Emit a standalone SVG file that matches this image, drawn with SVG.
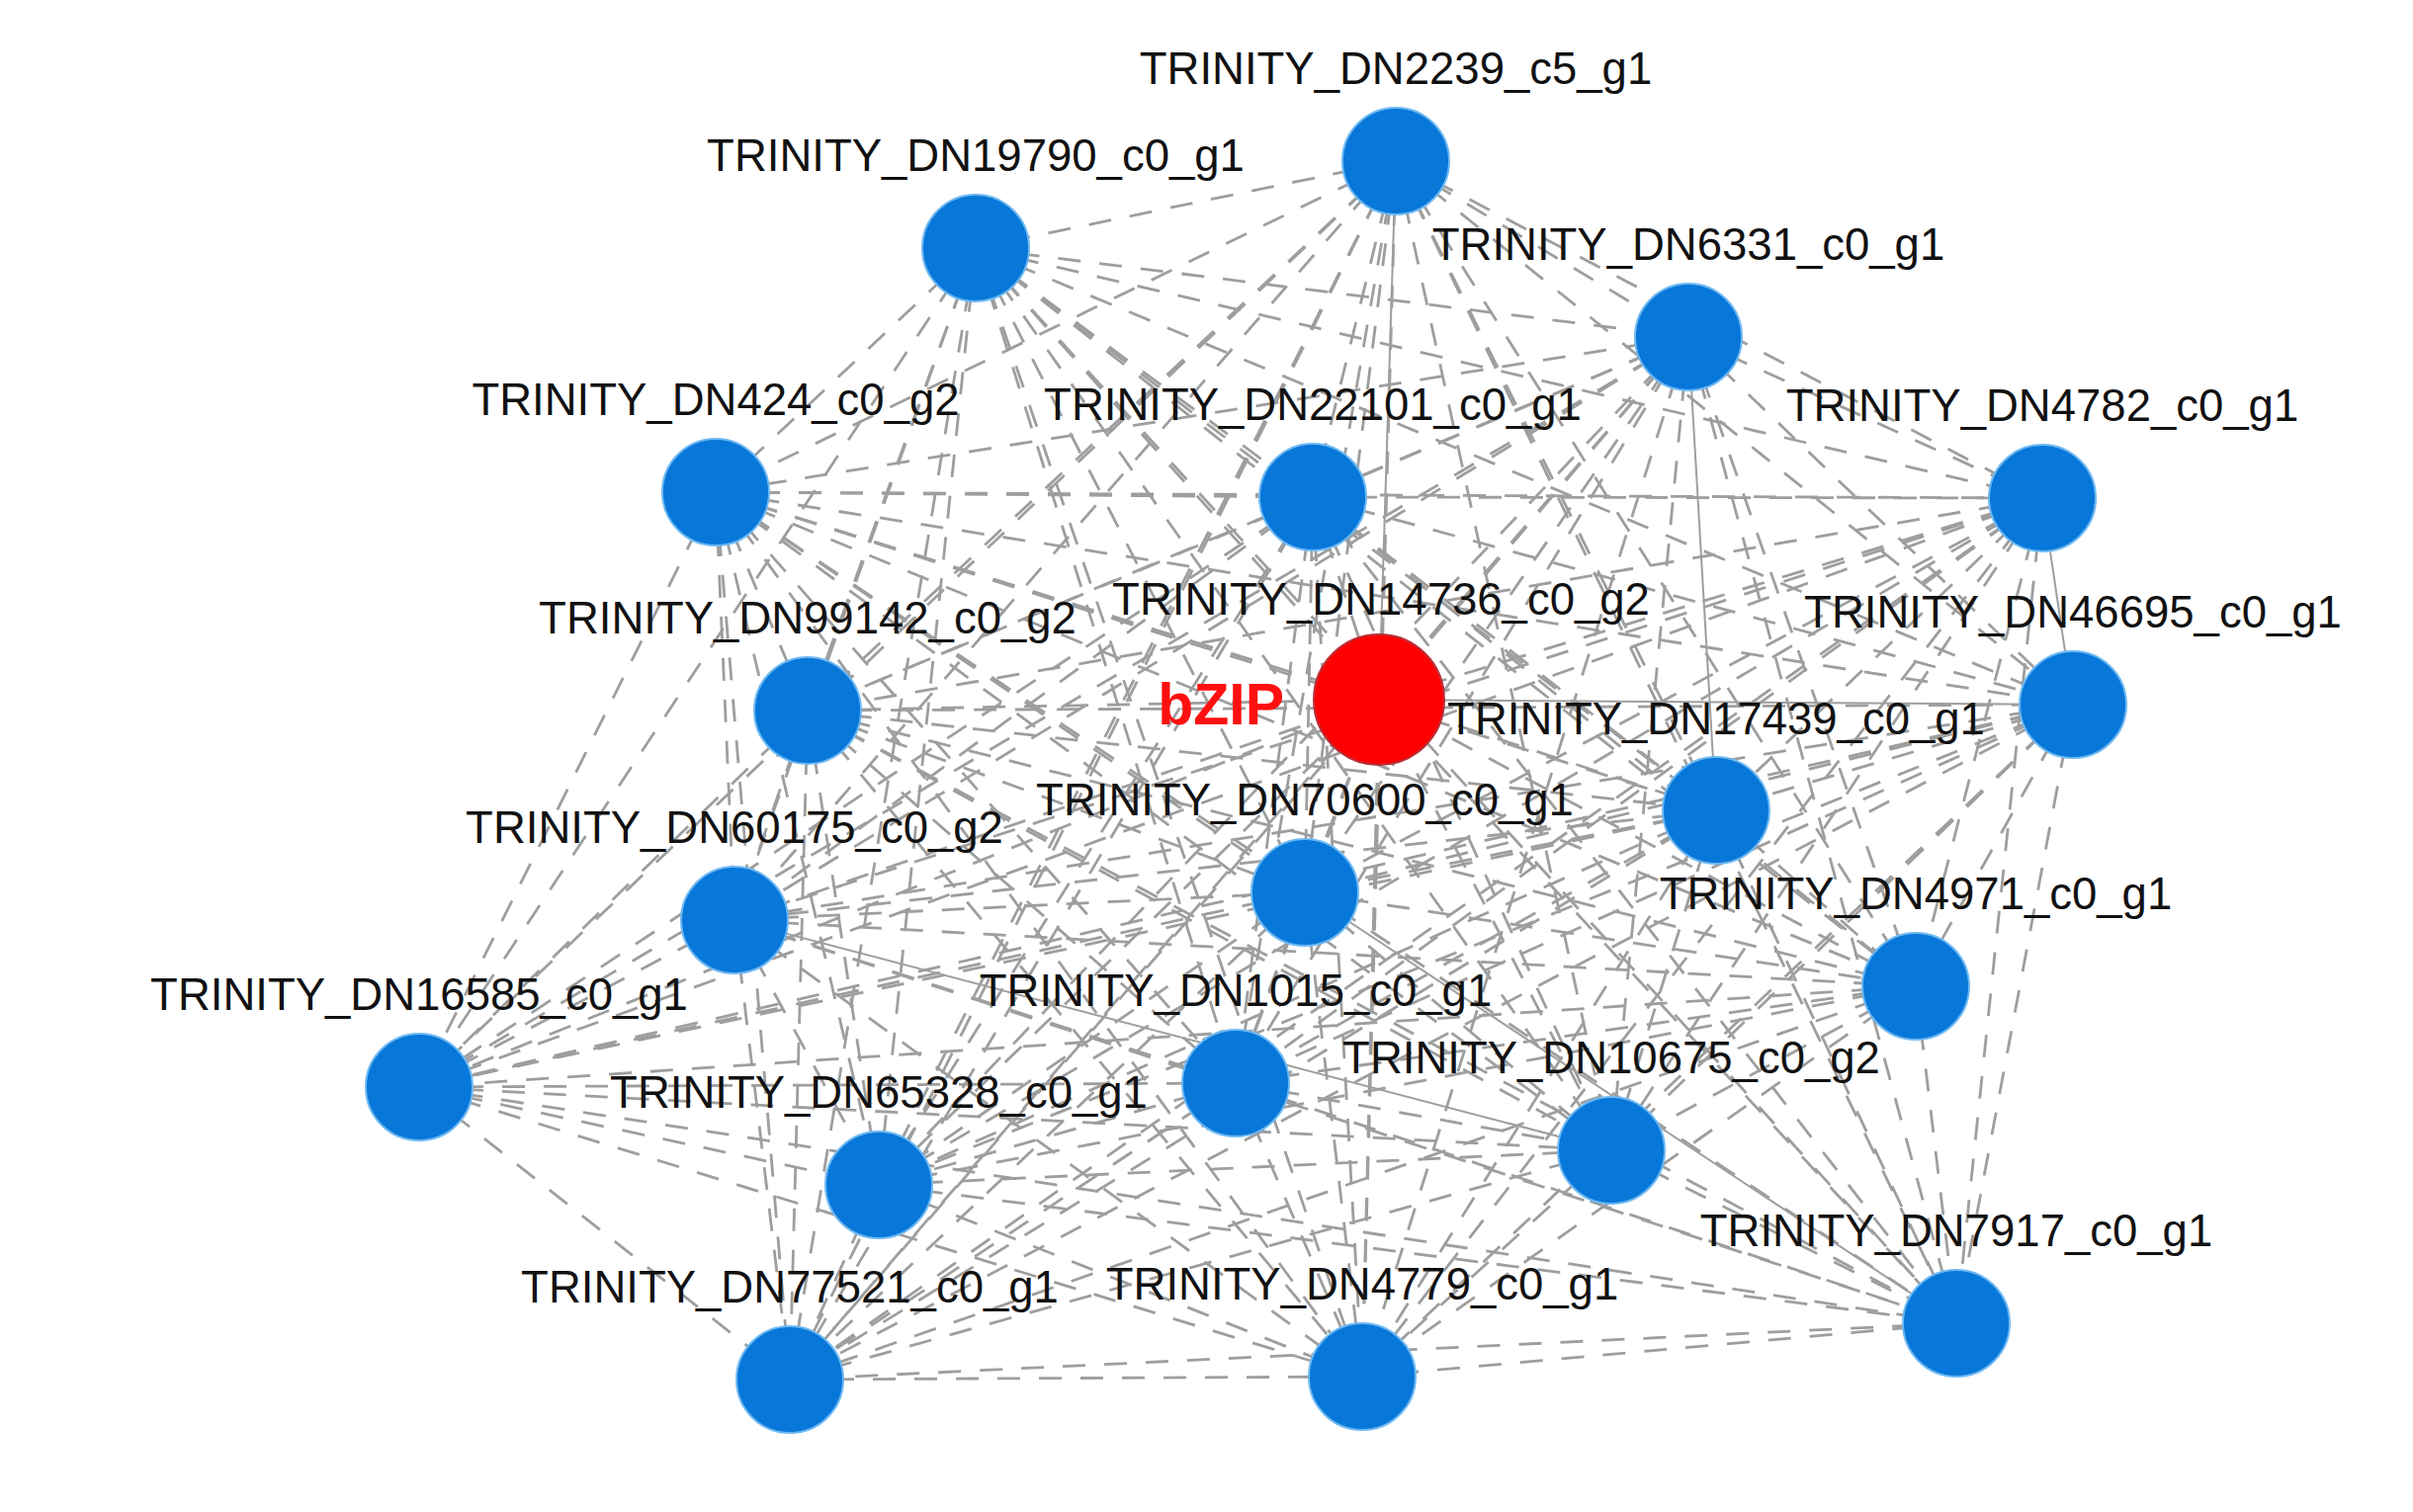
<svg xmlns="http://www.w3.org/2000/svg" width="2441" height="1530" viewBox="0 0 2441 1530">
<style>
.e line{stroke:#9e9e9e;stroke-width:2.8;stroke-dasharray:23 19;fill:none}
.e line.s{stroke-dasharray:none;stroke-width:2}
.n circle{fill:#0777D9;stroke:#6db8f2;stroke-width:2}
.n circle.r{fill:#FF0000;stroke:#b8303a;stroke-width:2}
.n text{font-family:"Liberation Sans",Arial,sans-serif;font-size:45.5px;fill:#111;text-anchor:middle}
.n text.b{font-weight:bold;fill:#FF1010;font-size:59px;text-anchor:end}
</style>
<rect width="2441" height="1530" fill="#ffffff"/>
<g id="edges" class="e">
<line x1="1412" y1="163" x2="987" y2="251"/>
<line x1="1412" y1="163" x2="1708" y2="341"/>
<line x1="1412" y1="163" x2="724" y2="498"/>
<line x1="1412" y1="163" x2="1328" y2="503"/>
<line x1="1412" y1="163" x2="2066" y2="504"/>
<line class="s" x1="1412" y1="163" x2="1395" y2="708"/>
<line x1="1412" y1="163" x2="817" y2="719"/>
<line x1="1412" y1="163" x2="2097" y2="713"/>
<line x1="1412" y1="163" x2="1736" y2="820"/>
<line x1="1412" y1="163" x2="743" y2="931"/>
<line x1="1412" y1="163" x2="1320" y2="903"/>
<line x1="1412" y1="163" x2="1938" y2="998"/>
<line x1="1412" y1="163" x2="424" y2="1100"/>
<line x1="1412" y1="163" x2="1250" y2="1096"/>
<line x1="1412" y1="163" x2="889" y2="1199"/>
<line x1="1412" y1="163" x2="1630" y2="1164"/>
<line x1="1412" y1="163" x2="1979" y2="1339"/>
<line x1="1412" y1="163" x2="799" y2="1396"/>
<line x1="1412" y1="163" x2="1378" y2="1393"/>
<line x1="987" y1="251" x2="1708" y2="341"/>
<line x1="987" y1="251" x2="724" y2="498"/>
<line x1="987" y1="251" x2="1328" y2="503"/>
<line x1="987" y1="251" x2="2066" y2="504"/>
<line x1="987" y1="251" x2="1395" y2="708"/>
<line x1="987" y1="251" x2="817" y2="719"/>
<line x1="987" y1="251" x2="2097" y2="713"/>
<line x1="987" y1="251" x2="1736" y2="820"/>
<line x1="987" y1="251" x2="743" y2="931"/>
<line x1="987" y1="251" x2="1320" y2="903"/>
<line x1="987" y1="251" x2="1938" y2="998"/>
<line x1="987" y1="251" x2="424" y2="1100"/>
<line x1="987" y1="251" x2="1250" y2="1096"/>
<line x1="987" y1="251" x2="889" y2="1199"/>
<line x1="987" y1="251" x2="1630" y2="1164"/>
<line x1="987" y1="251" x2="1979" y2="1339"/>
<line x1="987" y1="251" x2="799" y2="1396"/>
<line x1="987" y1="251" x2="1378" y2="1393"/>
<line x1="1708" y1="341" x2="724" y2="498"/>
<line x1="1708" y1="341" x2="1328" y2="503"/>
<line x1="1708" y1="341" x2="2066" y2="504"/>
<line x1="1708" y1="341" x2="1395" y2="708"/>
<line x1="1708" y1="341" x2="817" y2="719"/>
<line x1="1708" y1="341" x2="2097" y2="713"/>
<line class="s" x1="1708" y1="341" x2="1736" y2="820"/>
<line x1="1708" y1="341" x2="743" y2="931"/>
<line x1="1708" y1="341" x2="1320" y2="903"/>
<line x1="1708" y1="341" x2="1938" y2="998"/>
<line x1="1708" y1="341" x2="424" y2="1100"/>
<line x1="1708" y1="341" x2="1250" y2="1096"/>
<line x1="1708" y1="341" x2="889" y2="1199"/>
<line x1="1708" y1="341" x2="1630" y2="1164"/>
<line x1="1708" y1="341" x2="1979" y2="1339"/>
<line x1="1708" y1="341" x2="799" y2="1396"/>
<line x1="1708" y1="341" x2="1378" y2="1393"/>
<line x1="724" y1="498" x2="1328" y2="503"/>
<line x1="724" y1="498" x2="2066" y2="504"/>
<line x1="724" y1="498" x2="1395" y2="708"/>
<line x1="724" y1="498" x2="817" y2="719"/>
<line x1="724" y1="498" x2="2097" y2="713"/>
<line x1="724" y1="498" x2="1736" y2="820"/>
<line x1="724" y1="498" x2="743" y2="931"/>
<line x1="724" y1="498" x2="1320" y2="903"/>
<line x1="724" y1="498" x2="1938" y2="998"/>
<line x1="724" y1="498" x2="424" y2="1100"/>
<line x1="724" y1="498" x2="1250" y2="1096"/>
<line x1="724" y1="498" x2="889" y2="1199"/>
<line x1="724" y1="498" x2="1630" y2="1164"/>
<line x1="724" y1="498" x2="1979" y2="1339"/>
<line x1="724" y1="498" x2="799" y2="1396"/>
<line x1="724" y1="498" x2="1378" y2="1393"/>
<line x1="1328" y1="503" x2="2066" y2="504"/>
<line x1="1328" y1="503" x2="1395" y2="708"/>
<line x1="1328" y1="503" x2="817" y2="719"/>
<line x1="1328" y1="503" x2="2097" y2="713"/>
<line x1="1328" y1="503" x2="1736" y2="820"/>
<line x1="1328" y1="503" x2="743" y2="931"/>
<line x1="1328" y1="503" x2="1320" y2="903"/>
<line x1="1328" y1="503" x2="1938" y2="998"/>
<line x1="1328" y1="503" x2="424" y2="1100"/>
<line x1="1328" y1="503" x2="1250" y2="1096"/>
<line x1="1328" y1="503" x2="889" y2="1199"/>
<line x1="1328" y1="503" x2="1630" y2="1164"/>
<line x1="1328" y1="503" x2="1979" y2="1339"/>
<line x1="1328" y1="503" x2="799" y2="1396"/>
<line x1="1328" y1="503" x2="1378" y2="1393"/>
<line x1="2066" y1="504" x2="1395" y2="708"/>
<line x1="2066" y1="504" x2="817" y2="719"/>
<line class="s" x1="2066" y1="504" x2="2097" y2="713"/>
<line x1="2066" y1="504" x2="1736" y2="820"/>
<line x1="2066" y1="504" x2="743" y2="931"/>
<line x1="2066" y1="504" x2="1320" y2="903"/>
<line x1="2066" y1="504" x2="1938" y2="998"/>
<line x1="2066" y1="504" x2="424" y2="1100"/>
<line x1="2066" y1="504" x2="1250" y2="1096"/>
<line x1="2066" y1="504" x2="889" y2="1199"/>
<line x1="2066" y1="504" x2="1630" y2="1164"/>
<line x1="2066" y1="504" x2="1979" y2="1339"/>
<line x1="2066" y1="504" x2="799" y2="1396"/>
<line x1="2066" y1="504" x2="1378" y2="1393"/>
<line x1="1395" y1="708" x2="817" y2="719"/>
<line class="s" x1="1395" y1="708" x2="2097" y2="713"/>
<line x1="1395" y1="708" x2="1736" y2="820"/>
<line x1="1395" y1="708" x2="743" y2="931"/>
<line x1="1395" y1="708" x2="1320" y2="903"/>
<line x1="1395" y1="708" x2="1938" y2="998"/>
<line x1="1395" y1="708" x2="424" y2="1100"/>
<line x1="1395" y1="708" x2="1250" y2="1096"/>
<line x1="1395" y1="708" x2="889" y2="1199"/>
<line x1="1395" y1="708" x2="1630" y2="1164"/>
<line x1="1395" y1="708" x2="1979" y2="1339"/>
<line x1="1395" y1="708" x2="799" y2="1396"/>
<line x1="1395" y1="708" x2="1378" y2="1393"/>
<line x1="817" y1="719" x2="2097" y2="713"/>
<line x1="817" y1="719" x2="1736" y2="820"/>
<line x1="817" y1="719" x2="743" y2="931"/>
<line x1="817" y1="719" x2="1320" y2="903"/>
<line x1="817" y1="719" x2="1938" y2="998"/>
<line x1="817" y1="719" x2="424" y2="1100"/>
<line x1="817" y1="719" x2="1250" y2="1096"/>
<line x1="817" y1="719" x2="889" y2="1199"/>
<line x1="817" y1="719" x2="1630" y2="1164"/>
<line x1="817" y1="719" x2="1979" y2="1339"/>
<line x1="817" y1="719" x2="799" y2="1396"/>
<line x1="817" y1="719" x2="1378" y2="1393"/>
<line x1="2097" y1="713" x2="1736" y2="820"/>
<line x1="2097" y1="713" x2="743" y2="931"/>
<line x1="2097" y1="713" x2="1320" y2="903"/>
<line x1="2097" y1="713" x2="1938" y2="998"/>
<line x1="2097" y1="713" x2="424" y2="1100"/>
<line x1="2097" y1="713" x2="1250" y2="1096"/>
<line x1="2097" y1="713" x2="889" y2="1199"/>
<line x1="2097" y1="713" x2="1630" y2="1164"/>
<line x1="2097" y1="713" x2="1979" y2="1339"/>
<line x1="2097" y1="713" x2="799" y2="1396"/>
<line x1="2097" y1="713" x2="1378" y2="1393"/>
<line x1="1736" y1="820" x2="743" y2="931"/>
<line x1="1736" y1="820" x2="1320" y2="903"/>
<line x1="1736" y1="820" x2="1938" y2="998"/>
<line x1="1736" y1="820" x2="424" y2="1100"/>
<line x1="1736" y1="820" x2="1250" y2="1096"/>
<line x1="1736" y1="820" x2="889" y2="1199"/>
<line x1="1736" y1="820" x2="1630" y2="1164"/>
<line x1="1736" y1="820" x2="1979" y2="1339"/>
<line x1="1736" y1="820" x2="799" y2="1396"/>
<line x1="1736" y1="820" x2="1378" y2="1393"/>
<line x1="743" y1="931" x2="1320" y2="903"/>
<line x1="743" y1="931" x2="1938" y2="998"/>
<line x1="743" y1="931" x2="424" y2="1100"/>
<line x1="743" y1="931" x2="1250" y2="1096"/>
<line x1="743" y1="931" x2="889" y2="1199"/>
<line class="s" x1="743" y1="931" x2="1630" y2="1164"/>
<line x1="743" y1="931" x2="1979" y2="1339"/>
<line x1="743" y1="931" x2="799" y2="1396"/>
<line x1="743" y1="931" x2="1378" y2="1393"/>
<line x1="1320" y1="903" x2="1938" y2="998"/>
<line x1="1320" y1="903" x2="424" y2="1100"/>
<line x1="1320" y1="903" x2="1250" y2="1096"/>
<line x1="1320" y1="903" x2="889" y2="1199"/>
<line x1="1320" y1="903" x2="1630" y2="1164"/>
<line class="s" x1="1320" y1="903" x2="1979" y2="1339"/>
<line x1="1320" y1="903" x2="799" y2="1396"/>
<line x1="1320" y1="903" x2="1378" y2="1393"/>
<line x1="1938" y1="998" x2="424" y2="1100"/>
<line x1="1938" y1="998" x2="1250" y2="1096"/>
<line x1="1938" y1="998" x2="889" y2="1199"/>
<line x1="1938" y1="998" x2="1630" y2="1164"/>
<line x1="1938" y1="998" x2="1979" y2="1339"/>
<line x1="1938" y1="998" x2="799" y2="1396"/>
<line x1="1938" y1="998" x2="1378" y2="1393"/>
<line x1="424" y1="1100" x2="1250" y2="1096"/>
<line x1="424" y1="1100" x2="889" y2="1199"/>
<line x1="424" y1="1100" x2="1630" y2="1164"/>
<line x1="424" y1="1100" x2="1979" y2="1339"/>
<line x1="424" y1="1100" x2="799" y2="1396"/>
<line x1="424" y1="1100" x2="1378" y2="1393"/>
<line x1="1250" y1="1096" x2="889" y2="1199"/>
<line x1="1250" y1="1096" x2="1630" y2="1164"/>
<line x1="1250" y1="1096" x2="1979" y2="1339"/>
<line x1="1250" y1="1096" x2="799" y2="1396"/>
<line x1="1250" y1="1096" x2="1378" y2="1393"/>
<line x1="889" y1="1199" x2="1630" y2="1164"/>
<line x1="889" y1="1199" x2="1979" y2="1339"/>
<line x1="889" y1="1199" x2="799" y2="1396"/>
<line x1="889" y1="1199" x2="1378" y2="1393"/>
<line x1="1630" y1="1164" x2="1979" y2="1339"/>
<line x1="1630" y1="1164" x2="799" y2="1396"/>
<line x1="1630" y1="1164" x2="1378" y2="1393"/>
<line x1="1979" y1="1339" x2="799" y2="1396"/>
<line x1="1979" y1="1339" x2="1378" y2="1393"/>
<line x1="799" y1="1396" x2="1378" y2="1393"/>
</g>
<g class="n">
<g id="n1"><circle cx="1412" cy="163" r="54"/><text x="1412" y="85">TRINITY_DN2239_c5_g1</text></g>
<g id="n2"><circle cx="987" cy="251" r="54"/><text x="987" y="173">TRINITY_DN19790_c0_g1</text></g>
<g id="n3"><circle cx="1708" cy="341" r="54"/><text x="1708" y="263">TRINITY_DN6331_c0_g1</text></g>
<g id="n4"><circle cx="724" cy="498" r="54"/><text x="724" y="420">TRINITY_DN424_c0_g2</text></g>
<g id="n5"><circle cx="1328" cy="503" r="54"/><text x="1328" y="425">TRINITY_DN22101_c0_g1</text></g>
<g id="n6"><circle cx="2066" cy="504" r="54"/><text x="2066" y="426">TRINITY_DN4782_c0_g1</text></g>
<g id="n7"><circle class="r" cx="1395" cy="708" r="66"/><text x="1397" y="622">TRINITY_DN14736_c0_g2</text><text class="b" x="1299" y="733">bZIP</text></g>
<g id="n8"><circle cx="817" cy="719" r="54"/><text x="817" y="641">TRINITY_DN99142_c0_g2</text></g>
<g id="n9"><circle cx="2097" cy="713" r="54"/><text x="2097" y="635">TRINITY_DN46695_c0_g1</text></g>
<g id="n10"><circle cx="1736" cy="820" r="54"/><text x="1736" y="743">TRINITY_DN17439_c0_g1</text></g>
<g id="n11"><circle cx="743" cy="931" r="54"/><text x="743" y="853">TRINITY_DN60175_c0_g2</text></g>
<g id="n12"><circle cx="1320" cy="903" r="54"/><text x="1320" y="825">TRINITY_DN70600_c0_g1</text></g>
<g id="n13"><circle cx="1938" cy="998" r="54"/><text x="1938" y="920">TRINITY_DN4971_c0_g1</text></g>
<g id="n14"><circle cx="424" cy="1100" r="54"/><text x="424" y="1022">TRINITY_DN16585_c0_g1</text></g>
<g id="n15"><circle cx="1250" cy="1096" r="54"/><text x="1250" y="1018">TRINITY_DN1015_c0_g1</text></g>
<g id="n16"><circle cx="889" cy="1199" r="54"/><text x="889" y="1121">TRINITY_DN65328_c0_g1</text></g>
<g id="n17"><circle cx="1630" cy="1164" r="54"/><text x="1630" y="1086">TRINITY_DN10675_c0_g2</text></g>
<g id="n18"><circle cx="1979" cy="1339" r="54"/><text x="1979" y="1261">TRINITY_DN7917_c0_g1</text></g>
<g id="n19"><circle cx="799" cy="1396" r="54"/><text x="799" y="1318">TRINITY_DN77521_c0_g1</text></g>
<g id="n20"><circle cx="1378" cy="1393" r="54"/><text x="1378" y="1315">TRINITY_DN4779_c0_g1</text></g>
</g>
</svg>
